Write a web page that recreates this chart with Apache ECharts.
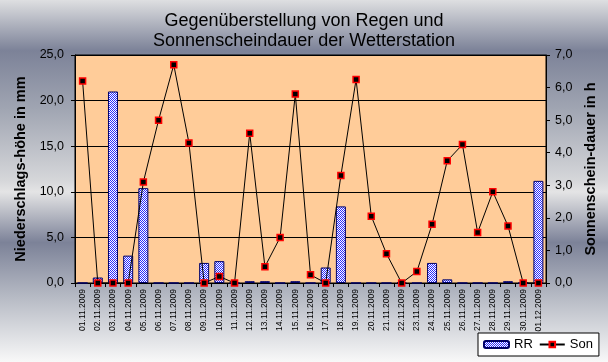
<!DOCTYPE html>
<html>
<head>
<meta charset="utf-8">
<script src="https://cdn.jsdelivr.net/npm/echarts@6/dist/echarts.min.js"></script>
<style>html,body{margin:0;padding:0;}#c{width:608px;height:362px;}</style>
</head>
<body>
<div id="c"></div>
<script>
const categories = ["01.11.2009","02.11.2009","03.11.2009","04.11.2009","05.11.2009","06.11.2009","07.11.2009","08.11.2009","09.11.2009","10.11.2009","11.11.2009","12.11.2009","13.11.2009","14.11.2009","15.11.2009","16.11.2009","17.11.2009","18.11.2009","19.11.2009","20.11.2009","21.11.2009","22.11.2009","23.11.2009","24.11.2009","25.11.2009","26.11.2009","27.11.2009","28.11.2009","29.11.2009","30.11.2009","01.12.2009"];
const rrValues = [0,0.6,21.0,3.0,10.4,0,0,0,2.2,2.4,0,0.2,0.2,0,0.2,0,1.7,8.4,0,0,0,0.1,0,2.2,0.4,0,0,0,0.2,0,11.2];
const sonValues = [6.2,0,0,0,3.1,5.0,6.7,4.3,0,0.2,0,4.6,0.5,1.4,5.8,0.25,0,3.3,6.25,2.05,0.9,0,0.35,1.8,3.75,4.25,1.55,2.8,1.75,0,0];
const titleLines = ["Gegenüberstellung von Regen und", "Sonnenscheindauer der Wetterstation"];
const leftName = "Niederschlags-höhe in mm";
const rightName = "Sonnenschein-dauer in h";

const pat = document.createElement('canvas');
pat.width = 2; pat.height = 2;
const pc = pat.getContext('2d');
pc.fillStyle = '#ffffff'; pc.fillRect(0,0,2,2);
pc.fillStyle = '#2a2aff'; pc.fillRect(0,0,1,1); pc.fillRect(1,1,1,1);
const barFill = {image: pat, repeat: 'repeat'};

const fmt = v => v.toFixed(1).replace('.', ',');
const FONT = 'Liberation Sans, Arial, sans-serif';

const chart = echarts.init(document.getElementById('c'), null, {renderer: 'canvas'});
chart.setOption({
  animation: false,
  backgroundColor: {
    type: 'linear', x: 0, y: 0, x2: 0, y2: 1,
    colorStops: [
      {offset: 0, color: '#dedfe1'},
      {offset: 0.14, color: '#7c8298'},
      {offset: 0.30, color: '#a0a5b2'},
      {offset: 0.50, color: '#d6d7da'},
      {offset: 0.53, color: '#e4e4e5'},
      {offset: 0.67, color: '#7c8298'},
      {offset: 0.82, color: '#b6bac4'},
      {offset: 1, color: '#f8f8f8'}
    ]
  },
  title: {
    text: titleLines.join('\n'),
    left: 'center', top: 6,
    textStyle: {fontFamily: FONT, fontSize: 18, fontWeight: 'normal', color: '#000', lineHeight: 20}
  },
  legend: {
    left: 478, top: 333,
    backgroundColor: '#fff', borderColor: '#000', borderWidth: 1,
    padding: [5, 6, 5, 5], itemGap: 6, itemWidth: 25, itemHeight: 7,
    textStyle: {fontFamily: FONT, fontSize: 13, color: '#000'},
    data: ['RR', 'Son']
  },
  grid: {
    left: 75, right: 62, top: 55, bottom: 79,
    show: true, backgroundColor: '#ffcc99', borderColor: '#000', borderWidth: 1
  },
  xAxis: {
    type: 'category', data: categories, boundaryGap: true,
    axisLine: {lineStyle: {color: '#000', width: 1}},
    axisTick: {show: true, interval: 0, length: 4, lineStyle: {color: '#000'}},
    axisLabel: {interval: 0, rotate: 90, margin: 6, fontFamily: FONT, fontSize: 8.5, color: '#000'}
  },
  yAxis: [
    {
      type: 'value', min: 0, max: 25, interval: 5,
      name: leftName, nameLocation: 'middle', nameGap: 41, nameRotate: 90,
      nameTextStyle: {fontFamily: FONT, fontSize: 14.5, fontWeight: 'bold', color: '#000'},
      axisLine: {show: true, lineStyle: {color: '#000'}},
      axisTick: {show: true, length: 4, lineStyle: {color: '#000'}},
      axisLabel: {formatter: fmt, margin: 11, fontFamily: FONT, fontSize: 12.5, color: '#000'},
      splitLine: {show: true, lineStyle: {color: '#000', width: 1}}
    },
    {
      type: 'value', min: 0, max: 7, interval: 1,
      name: rightName, nameLocation: 'middle', nameGap: 32, nameRotate: 90,
      nameTextStyle: {fontFamily: FONT, fontSize: 14.5, fontWeight: 'bold', color: '#000'},
      axisLine: {show: true, lineStyle: {color: '#000'}},
      axisTick: {show: true, length: 4, lineStyle: {color: '#000'}},
      axisLabel: {formatter: fmt, margin: 9, fontFamily: FONT, fontSize: 12.5, color: '#000'},
      splitLine: {show: false}
    }
  ],
  series: [
    {
      name: 'RR', type: 'bar', yAxisIndex: 0, data: rrValues, barWidth: 10,
      itemStyle: {color: barFill, borderColor: '#000066', borderWidth: 1}
    },
    {
      name: 'Son', type: 'line', yAxisIndex: 1, data: sonValues,
      symbol: 'rect', symbolSize: 6,
      lineStyle: {color: '#000', width: 1},
      itemStyle: {color: '#000', borderColor: '#ff0000', borderWidth: 1.5}
    }
  ]
});
</script>
</body>
</html>
